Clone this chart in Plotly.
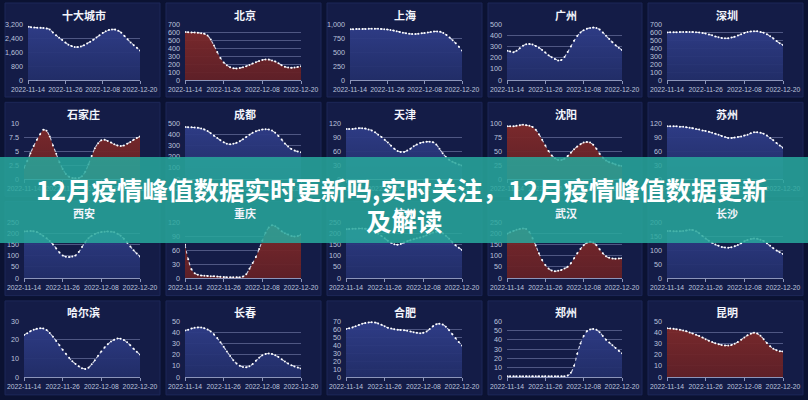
import plotly.graph_objects as go

# ---------------- data ----------------
dates = ["2022-11-%02d" % d for d in range(14, 31)] + ["2022-12-%02d" % d for d in range(1, 21)]
x_ticks = ["2022-11-14", "2022-11-26", "2022-12-08", "2022-12-20"]

cities = ["十大城市", "北京", "上海", "广州", "深圳",
          "石家庄", "成都", "天津", "沈阳", "苏州",
          "西安", "重庆", "杭州", "武汉", "长沙",
          "哈尔滨", "长春", "合肥", "郑州", "昆明"]
y_max = [3200, 700, 1000, 500, 700,
         10, 500, 120, 100, 120,
         250, 120, 250, 250, 200,
         30, 50, 70, 60, 50]
y_step = [800, 100, 250, 100, 100,
          2.5, 100, 30, 25, 30,
          50, 30, 50, 50, 50,
          10, 10, 10, 10, 10]
red_series = ["北京", "石家庄", "沈阳", "重庆", "武汉", "昆明"]

v_shida = [3050, 3020, 3000, 2990, 2980, 2970, 2950, 2880, 2720, 2560, 2410, 2280, 2140, 2020, 1940, 1890, 1880,
           1920, 1990, 2080, 2180, 2300, 2430, 2560, 2680, 2780, 2860, 2890, 2880, 2820, 2700, 2520, 2330, 2150,
           1990, 1840, 1680]
v_beijing = [600, 598, 595, 593, 590, 585, 578, 555, 505, 430, 350, 275, 220, 185, 160, 148, 145, 150, 160, 172,
             188, 205, 222, 238, 250, 256, 255, 245, 230, 210, 185, 165, 155, 152, 155, 163, 172]
v_shanghai = [905, 908, 910, 910, 912, 913, 915, 915, 915, 914, 912, 908, 902, 893, 882, 870, 858, 846, 835, 826,
              820, 820, 826, 833, 840, 848, 858, 866, 868, 860, 840, 805, 760, 710, 655, 595, 525]
v_guangzhou = [262, 255, 248, 262, 283, 305, 320, 322, 316, 303, 288, 268, 245, 222, 203, 188, 175, 178, 205, 250,
               300, 350, 393, 425, 445, 458, 465, 468, 464, 450, 425, 395, 365, 337, 310, 287, 268]
v_shenzhen = [595, 596, 597, 598, 599, 600, 600, 600, 599, 597, 594, 588, 580, 570, 558, 545, 533, 525, 521, 522,
              530, 542, 556, 572, 588, 600, 607, 610, 608, 600, 590, 572, 548, 520, 488, 460, 438]
v_shijiazhuang = [2.0, 3.2, 4.6, 5.9, 7.0, 8.0, 8.8, 8.6, 7.6, 6.0, 4.5, 3.0, 1.8, 0.9, 0.4, 0.2, 0.15, 0.2, 0.5,
                  1.3, 2.6, 4.1, 5.5, 6.4, 6.9, 7.0, 6.8, 6.5, 6.2, 6.0, 5.9, 6.0, 6.3, 6.6, 7.0, 7.3, 7.6]
v_chengdu = [465, 463, 461, 460, 458, 452, 443, 428, 408, 387, 366, 346, 328, 315, 310, 314, 324, 338, 356, 376,
             396, 413, 426, 436, 442, 445, 442, 432, 412, 385, 352, 318, 290, 268, 254, 245, 238]
v_tianjin = [107, 107, 107, 108, 109, 109, 108, 106, 104, 100, 95, 90, 84, 78, 71, 65, 60, 58, 58, 61, 65, 70, 74,
             77, 79, 80, 80, 79, 74, 65, 55, 47, 41, 37, 34, 31, 29]
v_shenyang = [94, 94, 94, 95, 96, 97, 96, 95, 93, 88, 80, 70, 60, 50, 42, 37, 34, 34, 36, 41, 47, 53, 58, 62, 65,
              66, 65, 61, 54, 45, 38, 33, 30, 28, 26, 24, 23]
v_suzhou = [113, 113, 113, 113, 112, 112, 111, 110, 109, 107, 106, 104, 103, 101, 99, 97, 95, 92, 90, 88, 88, 89,
            90, 91, 93, 95, 98, 100, 100, 99, 97, 93, 88, 83, 77, 72, 67]
v_xian = [208, 209, 210, 209, 205, 197, 188, 177, 165, 150, 132, 114, 101, 95, 94, 96, 101, 116, 138, 160, 177,
          189, 197, 202, 205, 207, 208, 207, 204, 198, 189, 175, 158, 141, 124, 109, 96]
v_chongqing = [71, 40, 19, 10, 7, 5.5, 5, 4.5, 4, 3.5, 3, 2.5, 2, 1.8, 1.5, 1.5, 1.5, 1.5, 3, 8, 20, 32, 45, 62,
               80, 97, 108, 113, 111, 106, 100, 96, 93, 90, 89, 90, 93]
v_hangzhou = [218, 219, 220, 220, 221, 221, 220, 218, 214, 208, 198, 188, 177, 166, 157, 151, 149, 152, 158, 164,
              169, 173, 177, 181, 185, 191, 198, 203, 206, 206, 200, 189, 175, 160, 146, 135, 125]
v_wuhan = [198, 204, 210, 215, 219, 221, 219, 205, 178, 145, 110, 80, 58, 42, 33, 30, 32, 36, 42, 50, 66, 88, 110,
           130, 146, 157, 162, 158, 146, 128, 110, 97, 90, 87, 86, 87, 88]
v_changsha = [168, 168, 167, 167, 167, 168, 170, 172, 171, 167, 160, 150, 141, 133, 126, 120, 115, 111, 109, 108,
              110, 113, 118, 124, 131, 136, 139, 141, 140, 137, 132, 124, 115, 106, 98, 92, 86]
v_harbin = [22.5, 23.5, 24.5, 25.3, 25.8, 26.1, 26.0, 25.2, 23.6, 21.5, 19.3, 17.0, 14.6, 12.4, 10.3, 8.5, 7.0, 5.7,
            4.7, 4.3, 5.0, 6.8, 9.0, 11.4, 13.7, 15.8, 17.6, 19.0, 20.0, 20.6, 20.5, 19.8, 18.6, 17.0, 15.2, 13.5,
            12.0]
v_changchun = [41.5, 42.3, 43.2, 43.9, 44.3, 44.2, 43.6, 42.4, 40.6, 38.0, 34.8, 31.0, 27.0, 22.8, 18.8, 15.0,
               12.0, 10.0, 9.0, 8.7, 9.6, 11.6, 14.4, 17.2, 19.4, 20.6, 21.0, 20.6, 19.5, 17.8, 15.8, 13.8, 12.0,
               10.6, 9.4, 8.4, 7.5]
v_hefei = [60, 61, 62, 63.5, 65, 66.5, 67.5, 68.2, 68.5, 68, 67, 65.3, 63.3, 61.6, 60.5, 59.8, 59.2, 58.8, 58.5,
           57.8, 56.9, 56, 55.2, 54.8, 55.3, 57, 60, 63.5, 66, 66.6, 65.5, 62.8, 58.5, 53.5, 48.5, 43.8, 39.4]
v_zhengzhou = [0.8, 0.8, 0.8, 0.8, 0.8, 0.8, 0.8, 0.8, 0.8, 0.8, 0.8, 0.8, 0.8, 0.8, 0.8, 0.8, 0.8, 0.8, 0.9, 1.5,
               4.5, 12, 25, 36, 44, 49, 51, 51.5, 50.5, 48, 44, 40, 37, 34, 31, 28, 25.5]
v_kunming = [43.5, 43.3, 43, 42.7, 42.2, 41.6, 40.8, 39.8, 38.8, 37.8, 36.5, 35.2, 33.8, 32.4, 31.2, 30.1, 29.2,
             28.6, 28.2, 28.1, 28.6, 29.6, 31.3, 33.3, 35.3, 37.2, 38.7, 39.5, 38.8, 36.8, 33.8, 30.4, 27.5, 25.3,
             23.9, 23.1, 22.8]

series = [v_shida, v_beijing, v_shanghai, v_guangzhou, v_shenzhen,
          v_shijiazhuang, v_chengdu, v_tianjin, v_shenyang, v_suzhou,
          v_xian, v_chongqing, v_hangzhou, v_wuhan, v_changsha,
          v_harbin, v_changchun, v_hefei, v_zhengzhou, v_kunming]

title_line1 = "12月疫情峰值数据实时更新吗,实时关注，12月疫情峰值数据更新"
title_line2 = "及解读"

# ---------------- layout helpers ----------------
W, H = 808, 400
BG = "#0b1232"
PANEL = "#141c47"
PANEL_BORDER = "#1d2758"
GRID = "rgba(150,160,205,0.45)"
TICKCOL = "#bcc3dd"
TICKFONT = "Liberation Sans, Arial, sans-serif"

panel_left = [5, 166, 327, 488, 648]
panel_right = [160, 321, 482, 642, 803]


def px(x):
    return x / W


def py(y):
    return 1 - y / H


def fmt(v):
    return f"{v:,g}"


fig = go.Figure()
shapes = []
annotations = []
layout_axes = {}

for i, (name, vals) in enumerate(zip(cities, series)):
    r, c = divmod(i, 5)
    n = i + 1
    ymx, ystp = y_max[i], y_step[i]
    tickvals = []
    v = 0.0
    while v <= ymx + 1e-9:
        tickvals.append(v)
        v += ystp
    ticktext = [fmt(t) for t in tickvals]
    maxlen = max(len(t) for t in ticktext)
    off = 23 if maxlen >= 5 else 19

    pl, pr = panel_left[c], panel_right[c]
    ptop = 3 + 99.3 * r
    pbot = 97 + 99.3 * r
    atop = 24 + 99 * r
    abot = 80 + 99 * r
    xl, xr = pl + off, pr - 20

    shapes.append(dict(type="rect", xref="paper", yref="paper",
                       x0=px(pl), x1=px(pr), y0=py(pbot), y1=py(ptop),
                       fillcolor=PANEL, line=dict(color=PANEL_BORDER, width=1), layer="below"))
    annotations.append(dict(text="<b>%s</b>" % name, xref="paper", yref="paper",
                            x=px((pl + pr) / 2 + 1), y=py(14.5 + 99.3 * r), showarrow=False,
                            xanchor="center", yanchor="middle",
                            font=dict(family="Noto Sans CJK SC", size=11, color="#f2f4fb")))

    red = name in red_series
    if red:
        cs = [[0, "rgba(98,32,38,0.95)"], [1, "rgba(128,42,42,0.95)"]]
    else:
        cs = [[0, "rgba(34,46,105,0.95)"], [1, "rgba(48,62,138,0.95)"]]

    xa = "x" if n == 1 else "x%d" % n
    ya = "y" if n == 1 else "y%d" % n
    fig.add_trace(go.Scatter(
        x=dates, y=vals, xaxis=xa, yaxis=ya, mode="lines+markers",
        line=dict(color="rgba(235,238,255,0.85)", width=1.1, dash="dot", shape="spline", smoothing=0.8),
        marker=dict(size=2.0, color="#ffffff"),
        fill="tozeroy",
        fillgradient=dict(type="vertical", colorscale=cs, start=0, stop=ymx),
        hoverinfo="skip", showlegend=False))

    layout_axes["xaxis" if n == 1 else "xaxis%d" % n] = dict(
        domain=[px(xl), px(xr)], anchor=ya, type="date", automargin=False,
        range=[dates[0], dates[-1]], tickvals=x_ticks, ticktext=x_ticks, tickangle=0,
        showgrid=False, zeroline=False, showline=True, linecolor="rgba(170,180,215,0.8)", linewidth=1,
        ticks="outside", ticklen=3, tickcolor="rgba(170,180,215,0.8)",
        tickfont=dict(family=TICKFONT, size=6.8, color=TICKCOL), fixedrange=True)
    layout_axes["yaxis" if n == 1 else "yaxis%d" % n] = dict(
        domain=[py(abot), py(atop)], anchor=xa, range=[0, ymx * 1.0001], automargin=False,
        tickvals=tickvals, ticktext=ticktext, showgrid=True, gridcolor=GRID, gridwidth=1,
        zeroline=False, showline=False, ticks="", ticklabelstandoff=4,
        tickfont=dict(family=TICKFONT, size=7.2, color=TICKCOL), fixedrange=True)

# banner overlay
shapes.append(dict(type="rect", xref="paper", yref="paper", x0=0, x1=1, y0=py(243), y1=py(157),
                   fillcolor="rgba(40,168,156,0.86)", line=dict(width=0), layer="above"))
annotations.append(dict(text="<b>%s</b>" % title_line1, xref="paper", yref="paper",
                        x=px(401), y=py(189), showarrow=False, xanchor="center", yanchor="middle",
                        font=dict(family="Noto Sans CJK SC", size=25.5, color="#ffffff")))
annotations.append(dict(text="<b>%s</b>" % title_line2, xref="paper", yref="paper",
                        x=px(404), y=py(219), showarrow=False, xanchor="center", yanchor="middle",
                        font=dict(family="Noto Sans CJK SC", size=25.5, color="#ffffff")))

fig.update_layout(width=W, height=H, margin=dict(l=0, r=0, t=0, b=0, pad=0, autoexpand=False),
                  paper_bgcolor=BG, plot_bgcolor="rgba(0,0,0,0)",
                  shapes=shapes, annotations=annotations, showlegend=False, **layout_axes)

fig.write_html("out.html",
               config={"displayModeBar": False, "staticPlot": True},
               post_script="document.body.style.margin='0';document.body.style.padding='0';"
                           "document.body.style.background='%s';"
                           "document.body.style.overflow='hidden';"
                           "document.documentElement.style.overflow='hidden';" % BG)
